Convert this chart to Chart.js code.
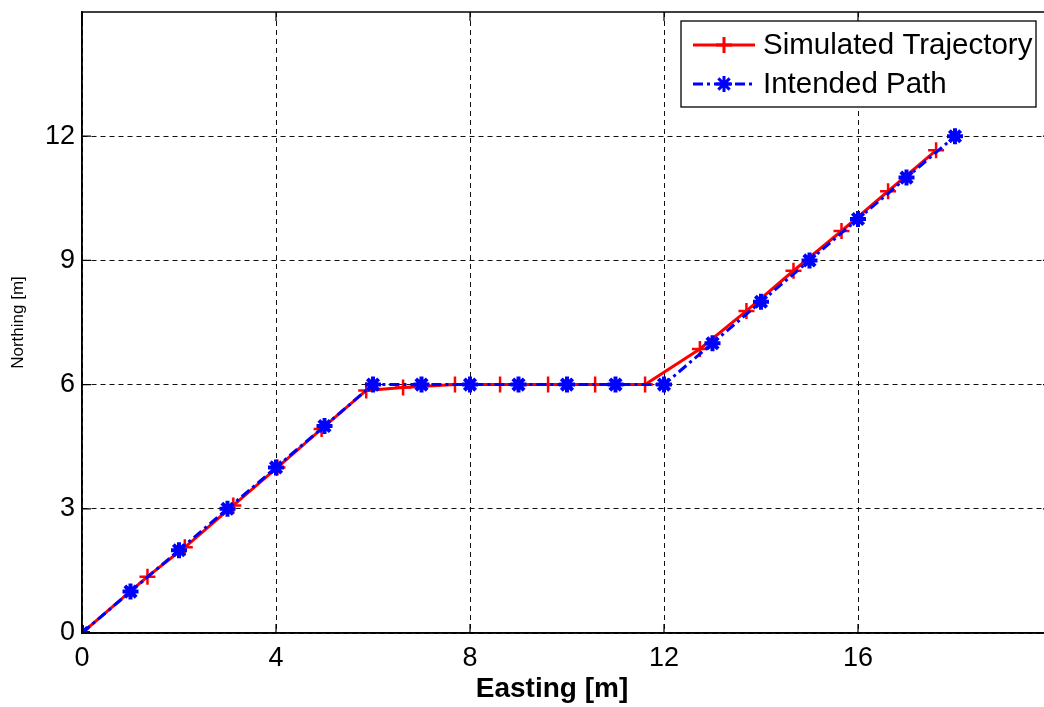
<!DOCTYPE html>
<html>
<head>
<meta charset="utf-8">
<script src="https://cdn.jsdelivr.net/npm/chart.js@4.4.1/dist/chart.umd.min.js"></script>
<style>
  html, body { margin: 0; padding: 0; background: #fff; overflow: hidden; }
  #wrap { width: 1064px; height: 707px; position: relative; }
</style>
</head>
<body>
<div id="wrap"><canvas id="c" width="1064" height="707"></canvas></div>
<script>
// Simulated trajectory samples (Easting, Northing) in metres
const simEasting  = [0, 1.35, 2.12, 3.12, 4.03, 4.94, 5.86, 6.62, 7.69, 8.62, 9.61, 10.58, 11.61, 12.74, 13.70, 14.67, 15.66, 16.62, 17.61];
const simNorthing = [0, 1.36, 2.07, 3.08, 4.00, 4.93, 5.86, 5.93, 6.00, 6.00, 6.00, 6.00, 6.00, 6.86, 7.78, 8.75, 9.71, 10.67, 11.66];

// Intended path waypoints (Easting, Northing) in metres
const pathEasting  = [0, 1, 2, 3, 4, 5, 6, 7, 8, 9, 10, 11, 12, 13, 14, 15, 16, 17, 18];
const pathNorthing = [0, 1, 2, 3, 4, 5, 6, 6, 6, 6, 6, 6, 6, 7, 8, 9, 10, 11, 12];

// Axis ticks
const xTickValues = [0, 4, 8, 12, 16];
const yTickValues = [0, 3, 6, 9, 12];
const xRange = [0, 20];
const yRange = [0, 15];

const seriesNames = ['Simulated Trajectory', 'Intended Path'];
const xAxisLabel = 'Easting [m]';
const yAxisLabel = 'Northing [m]';

const FONT = '"Liberation Sans", Arial, Helvetica, sans-serif';

const toPoints = (xs, ys) => xs.map((x, i) => ({ x: x, y: ys[i] }));

// Box around the axes plus MATLAB-style inward tick marks
const axesBox = {
  id: 'axesBox',
  afterDraw(chart) {
    const { ctx, chartArea: a, scales } = chart;
    ctx.save();
    ctx.setLineDash([]);
    ctx.strokeStyle = '#000';
    ctx.lineWidth = 1.5;
    ctx.strokeRect(a.left, a.top, a.right - a.left, a.bottom - a.top);
    ctx.lineWidth = 1.2;
    const len = 9;
    ctx.beginPath();
    xTickValues.forEach(v => {
      const px = scales.x.getPixelForValue(v);
      ctx.moveTo(px, a.bottom); ctx.lineTo(px, a.bottom - len);
      ctx.moveTo(px, a.top); ctx.lineTo(px, a.top + len);
    });
    yTickValues.forEach(v => {
      const py = scales.y.getPixelForValue(v);
      ctx.moveTo(a.left, py); ctx.lineTo(a.left + len, py);
      ctx.moveTo(a.right, py); ctx.lineTo(a.right - len, py);
    });
    ctx.stroke();
    ctx.restore();
  }
};

// Bold x-axis label, centred under the visible part of the axes
const xLabel = {
  id: 'xLabel',
  afterDraw(chart) {
    const { ctx, chartArea: a } = chart;
    const visibleRight = Math.min(a.right, 1052) - 30;
    ctx.save();
    ctx.fillStyle = '#000';
    ctx.font = 'bold 28px ' + FONT;
    ctx.textAlign = 'center';
    ctx.textBaseline = 'middle';
    ctx.fillText(xAxisLabel, (a.left + visibleRight) / 2, 689);
    ctx.restore();
  }
};

// Boxed legend in the upper right corner of the axes
const boxedLegend = {
  id: 'boxedLegend',
  afterDraw(chart) {
    const { ctx } = chart;
    const box = { x: 681, y: 21, w: 355, h: 86 };
    const rows = [45, 84];
    const lineX0 = 693, lineX1 = 755, textX = 763;
    ctx.save();
    ctx.fillStyle = '#fff';
    ctx.fillRect(box.x, box.y, box.w, box.h);
    ctx.setLineDash([]);
    ctx.strokeStyle = '#000';
    ctx.lineWidth = 1.3;
    ctx.strokeRect(box.x, box.y, box.w, box.h);
    chart.data.datasets.forEach((ds, i) => {
      const y = rows[i];
      ctx.save();
      ctx.strokeStyle = ds.borderColor;
      ctx.lineWidth = ds.borderWidth;
      ctx.setLineDash(ds.borderDash || []);
      ctx.beginPath();
      ctx.moveTo(lineX0, y);
      ctx.lineTo(lineX1, y);
      ctx.stroke();
      ctx.setLineDash([]);
      Chart.helpers.drawPoint(ctx, {
        pointStyle: ds.pointStyle,
        radius: ds.pointRadius,
        borderWidth: ds.pointBorderWidth,
        rotation: 0
      }, (lineX0 + lineX1) / 2, y);
      ctx.restore();
      ctx.fillStyle = '#000';
      ctx.font = '29.5px ' + FONT;
      ctx.textBaseline = 'middle';
      ctx.textAlign = 'left';
      ctx.fillText(ds.label, textX, y + 1);
    });
    ctx.restore();
  }
};

new Chart(document.getElementById('c'), {
  type: 'scatter',
  data: {
    datasets: [
      {
        label: seriesNames[0],
        data: toPoints(simEasting, simNorthing),
        showLine: true,
        borderColor: '#ff0000',
        backgroundColor: '#ff0000',
        borderWidth: 3,
        pointStyle: 'cross',
        pointRadius: 8,
        pointBorderWidth: 2.5,
        pointBorderColor: '#ff0000',
        pointHoverRadius: 8,
        order: 2
      },
      {
        label: seriesNames[1],
        data: toPoints(pathEasting, pathNorthing),
        showLine: true,
        borderColor: '#0000ff',
        backgroundColor: '#0000ff',
        borderWidth: 3,
        borderDash: [10, 4, 3, 4],
        pointStyle: 'star',
        pointRadius: 8,
        pointBorderWidth: 4,
        pointBorderColor: '#0000ff',
        pointHoverRadius: 8,
        order: 1
      }
    ]
  },
  options: {
    responsive: false,
    animation: false,
    devicePixelRatio: 1,
    layout: { padding: { top: 10, right: 0, left: 0, bottom: 0 } },
    plugins: {
      legend: { display: false },
      tooltip: { enabled: false }
    },
    elements: { line: { tension: 0 } },
    scales: {
      x: {
        type: 'linear',
        min: xRange[0],
        max: xRange[1],
        afterBuildTicks: s => { s.ticks = xTickValues.map(v => ({ value: v })); },
        afterFit: s => { s.height = 74; s.paddingLeft = 0; s.paddingRight = 0; },
        ticks: {
          color: '#000',
          font: { family: FONT, size: 27 },
          padding: 9,
          maxRotation: 0
        },
        grid: { color: '#111', lineWidth: 1, drawTicks: false },
        border: { display: true, color: '#000', width: 1.5, dash: [5, 4] }
      },
      y: {
        type: 'linear',
        min: yRange[0],
        max: yRange[1],
        afterBuildTicks: s => { s.ticks = yTickValues.map(v => ({ value: v })); },
        afterFit: s => { s.width = 82; s.paddingTop = 0; s.paddingBottom = 0; },
        ticks: {
          color: '#000',
          font: { family: FONT, size: 27 },
          padding: 7
        },
        grid: { color: '#111', lineWidth: 1, drawTicks: false },
        border: { display: true, color: '#000', width: 1.5, dash: [5, 4] },
        title: {
          display: true,
          text: yAxisLabel,
          color: '#000',
          font: { family: FONT, size: 17 },
          padding: { top: 8, bottom: 0 }
        }
      }
    }
  },
  plugins: [axesBox, xLabel, boxedLegend]
});
</script>
</body>
</html>
